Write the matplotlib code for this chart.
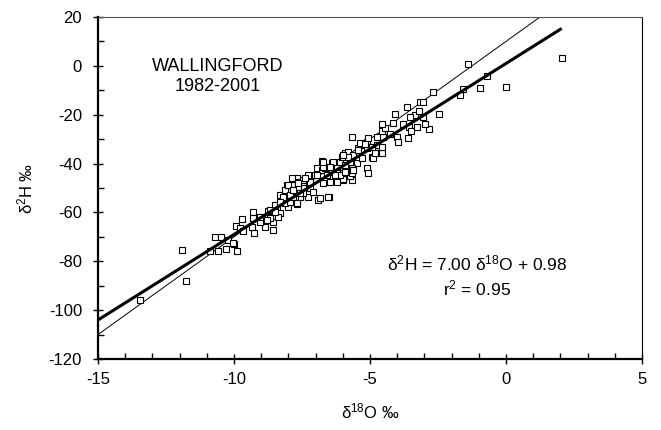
import matplotlib
matplotlib.use("Agg")
import matplotlib.pyplot as plt
import numpy as np
from matplotlib.ticker import MultipleLocator

plt.rcParams['font.family'] = ['Liberation Sans', 'DejaVu Sans']
plt.rcParams['mathtext.fontset'] = 'custom'
plt.rcParams['mathtext.rm'] = 'Liberation Sans'
plt.rcParams['mathtext.it'] = 'Liberation Sans:italic'
plt.rcParams['font.size'] = 12
plt.rcParams['axes.unicode_minus'] = False

# monthly precipitation samples, Wallingford 1982-2001
d18O = [-13.46, -11.76, -11.91, -10.88, -10.70, -10.48, -10.59, -10.29, -10.22, -10.00,
        -9.89, -9.93, -9.71, -9.78, -9.67, -10.04, -9.30, -9.30, -9.26, -9.34,
        -8.97, -8.86, -8.57, -8.75, -8.57, -8.42, -8.31, -8.24, -8.05, -8.01,
        -7.83, -7.68, -7.57, -7.28, -6.91, -6.51, -7.46, -7.21, -6.73, -5.66,
        -5.99, -9.04, -8.68, -8.38, -8.13, -7.94, -7.87, -7.76, -7.68, -7.65,
        -8.31, -8.13, -7.87, -7.65, -7.46, -7.28, -7.21, -7.02, -6.95, -6.76,
        -6.76, -6.65, -6.58, -6.40, -6.36, -6.21, -6.10, -6.03, -5.92, -5.81,
        -5.66, -5.63, -5.48, -5.44, -5.26, -5.11, -5.07, -4.93, -5.11, -5.07,
        -6.21, -6.47, -7.10, -6.84, -6.54, -7.46, -5.85, -5.74, -4.74, -4.74,
        -5.66, -5.11, -5.37, -5.99, -5.66, -5.99, -5.66, -5.99, -5.74, -4.89,
        -4.82, -4.56, -4.93, -4.56, -5.18, -4.52, -4.74, -4.26, -4.01, -3.97,
        -3.60, -4.56, -4.45, -4.56, -4.15, -3.79, -3.57, -3.49, -3.27, -2.83,
        -2.98, -3.05, -3.35, -3.53, -3.20, -4.08, -3.64, -3.16, -3.05, -2.46,
        -2.68, -1.69, -1.58, -0.96, -0.70, -1.40, 0.00, 2.06, -7.57, -7.83,
        -6.73, -6.10, -5.92,
        -5.44, -5.81, -5.99, -5.63, -6.36, -6.40, -6.73, -6.95, -7.39, -7.65,
        -8.01, -8.20, -7.94, -6.47, -6.29, -5.92, -5.29, -8.49, -8.31,
        -8.79, -8.68, -8.49, -9.04, -7.83, -7.68]
d2H = [-95.8, -88.0, -75.4, -75.8, -70.0, -70.0, -75.8, -74.9, -71.3, -72.9,
       -75.8, -65.5, -62.6, -66.3, -67.6, -72.5, -59.8, -62.3, -68.4, -65.9,
       -61.9, -65.9, -67.2, -59.4, -63.9, -58.2, -60.2, -52.8, -48.8, -57.8,
       -49.6, -56.5, -53.7, -53.7, -54.9, -53.7, -50.0, -50.0, -47.9, -46.7,
       -46.7, -63.9, -62.3, -61.9, -56.1, -55.7, -48.8, -53.7, -45.9, -49.6,
       -52.8, -50.8, -45.9, -47.5, -46.7, -44.6, -47.5, -44.6, -41.8, -38.9,
       -42.6, -41.8, -44.6, -39.7, -42.6, -41.4, -39.3, -37.3, -35.6, -35.2,
       -38.5, -36.5, -39.7, -33.6, -32.4, -31.1, -29.5, -37.3, -41.8, -43.8,
       -47.5, -47.5, -51.6, -54.1, -53.7, -52.0, -43.8, -45.1, -32.4, -35.6,
       -29.1, -33.6, -31.6, -37.3, -41.8, -43.8, -43.8, -46.3, -39.3, -37.7,
       -35.6, -35.6, -33.2, -33.2, -32.0, -29.1, -29.1, -27.9, -29.1, -31.1,
       -29.5, -26.6, -25.4, -23.8, -23.4, -23.8, -25.0, -26.6, -25.0, -25.8,
       -23.8, -20.9, -20.1, -20.9, -18.5, -19.7, -16.8, -14.8, -14.8, -19.7,
       -10.7, -11.9, -9.5, -9.0, -4.1, 0.8, -8.6, 3.2, -52.0, -53.7,
       -41.4, -44.6, -43.4,
       -34.4, -37.3, -36.5, -42.6, -39.3, -43.4, -39.3, -44.6, -45.9, -47.9,
       -48.8, -53.7, -52.8, -41.4, -44.6, -40.5, -37.7, -56.9, -55.7,
       -63.1, -59.0, -59.8, -61.9, -50.8, -56.1]

# fitted local line and global meteoric water line
fit_slope, fit_icpt = 7.00, 0.98
fit_range = [-15, 2]
gmwl_slope, gmwl_icpt = 8.0, 10.0
gmwl_range = [-15, 1.25]

fig = plt.figure(figsize=(6.61, 4.30), dpi=100)
ax = fig.add_axes([98 / 661, 1 - 359 / 430, 544 / 661, 342 / 430])

gx = np.array(gmwl_range)
ax.plot(gx, gmwl_slope * gx + gmwl_icpt, color='black', lw=0.7, zorder=2)
ax.plot(d18O, d2H, ls='none', marker='s', ms=4.6, mfc='white', mec='black', mew=0.8, zorder=3)
fx = np.array(fit_range)
ax.plot(fx, fit_slope * fx + fit_icpt, color='black', lw=2.2, zorder=4)

ax.set_xlim(-15, 5)
ax.set_ylim(-120, 20)
ax.xaxis.set_major_locator(MultipleLocator(5))
ax.xaxis.set_minor_locator(MultipleLocator(1))
ax.yaxis.set_major_locator(MultipleLocator(20))
ax.yaxis.set_minor_locator(MultipleLocator(10))
ax.tick_params(which='major', direction='inout', length=7, width=1, pad=6)
ax.tick_params(which='minor', direction='in', length=4, width=1)
ax.tick_params(axis='y', which='major', pad=8)

for s in ['left', 'bottom']:
    ax.spines[s].set_linewidth(1.6)
for s in ['top', 'right']:
    ax.spines[s].set_linewidth(0.8)
ax.spines['top'].set_color('#555555')

ax.set_xlabel('δ$^{18}$O ‰')
ax.set_ylabel('δ$^{2}$H ‰')
ax.xaxis.set_label_coords(0.5, -0.123)
ax.yaxis.set_label_coords(-0.115, 0.5)

ax.text(-10.6, -4.4, 'WALLINGFORD\n1982-2001', ha='center', va='center',
        multialignment='center', fontsize=13)
ax.text(-1.07, -80.7, 'δ$^{2}$H = 7.00 δ$^{18}$O + 0.98', ha='center', va='center', fontsize=12.5)
ax.text(-1.07, -91.0, 'r$^{2}$ = 0.95', ha='center', va='center', fontsize=12.5)

fig.savefig('out.png', dpi=100)
